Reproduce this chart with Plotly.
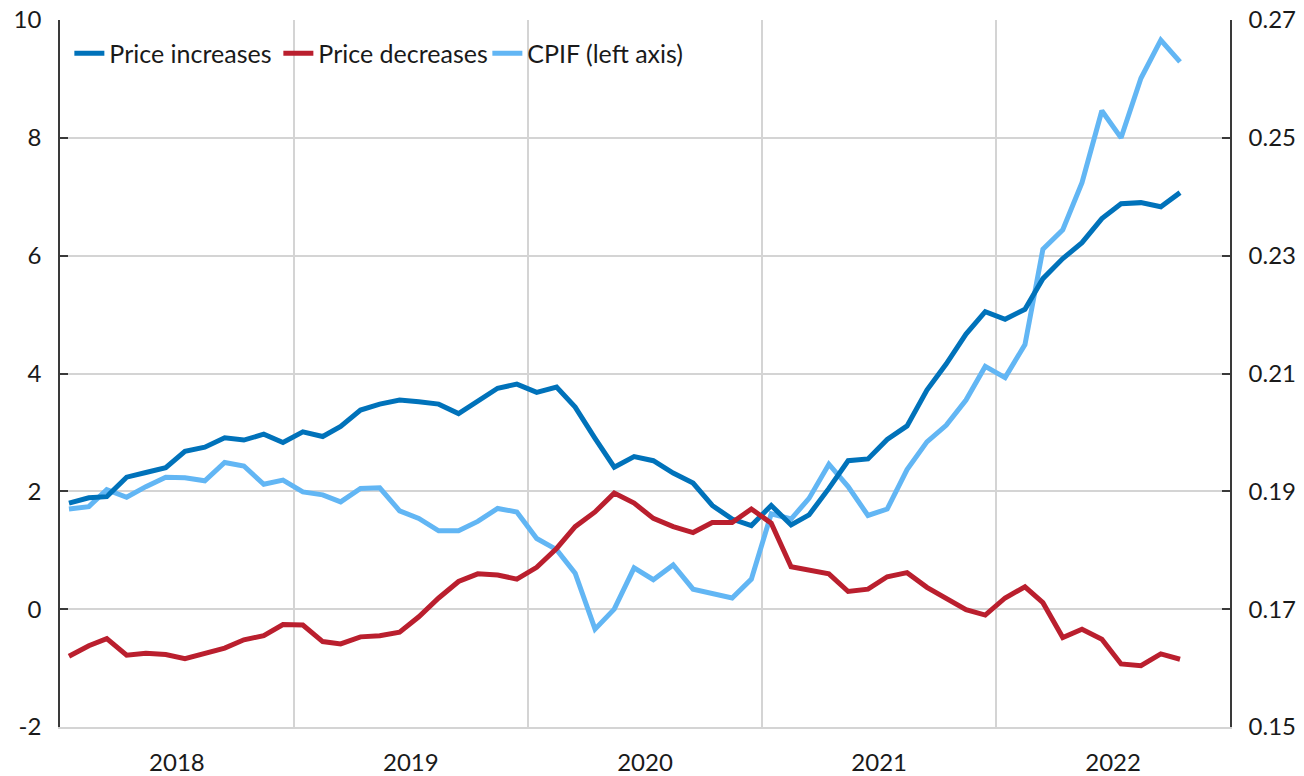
import pandas as pd
import plotly.graph_objects as go

# Monthly observations, Jan 2018 - Oct 2022
months = pd.date_range("2018-01-01", periods=58, freq="MS") + pd.Timedelta(days=14)

# Right axis (share of prices)
price_increases = [
    0.1880, 0.1889, 0.1891, 0.1924, 0.1932, 0.1940, 0.1968, 0.1975, 0.1991, 0.1987, 0.1997, 0.1983,
    0.2001, 0.1993, 0.2010, 0.2038, 0.2048, 0.2055, 0.2052, 0.2048, 0.2032, 0.2052, 0.2075, 0.2082,
    0.2068, 0.2077, 0.2043, 0.1990, 0.1941, 0.1959, 0.1952, 0.1931, 0.1914, 0.1876, 0.1853, 0.1842,
    0.1876, 0.1843, 0.1860, 0.1905, 0.1952, 0.1955, 0.1988, 0.2011, 0.2072, 0.2116, 0.2167, 0.2205,
    0.2192, 0.2209, 0.2261, 0.2295, 0.2322, 0.2363, 0.2388, 0.2390, 0.2383, 0.2407,
]
price_decreases = [
    0.1620, 0.1638, 0.1650, 0.1622, 0.1625, 0.1623, 0.1616, 0.1625, 0.1634, 0.1648, 0.1655, 0.1674,
    0.1673, 0.1645, 0.1641, 0.1653, 0.1655, 0.1661, 0.1687, 0.1719, 0.1747, 0.1760, 0.1758, 0.1751,
    0.1771, 0.1803, 0.1840, 0.1865, 0.1897, 0.1880, 0.1854, 0.1840, 0.1830, 0.1847, 0.1847, 0.1870,
    0.1846, 0.1772, 0.1767, 0.1760, 0.1730, 0.1734, 0.1755, 0.1762, 0.1737, 0.1719, 0.1699, 0.1690,
    0.1719, 0.1738, 0.1711, 0.1652, 0.1666, 0.1649, 0.1607, 0.1604, 0.1624, 0.1615,
]
# Left axis (CPIF, annual % change)
cpif = [
    1.70, 1.74, 2.03, 1.90, 2.08, 2.24, 2.23, 2.18, 2.49, 2.43, 2.12, 2.19,
    1.99, 1.94, 1.82, 2.05, 2.06, 1.67, 1.54, 1.33, 1.33, 1.49, 1.71, 1.65,
    1.20, 1.01, 0.61, -0.34, 0.00, 0.70, 0.50, 0.75, 0.34, 0.27, 0.19, 0.51,
    1.62, 1.53, 1.88, 2.46, 2.08, 1.59, 1.70, 2.37, 2.84, 3.12, 3.55, 4.12,
    3.93, 4.49, 6.11, 6.44, 7.24, 8.46, 8.00, 9.01, 9.66, 9.29,
]

left_ticks = [-2, 0, 2, 4, 6, 8, 10]
left_labels = ["-2", "0", "2", "4", "6", "8", "10"]

names = ["Price increases", "Price decreases", "CPIF (left axis)"]
colors = ["#0072BA", "#BA1F2E", "#62B6F4"]

FONT = "Lato"
TXT = "#1a1a1a"
GRID = "#d4d4d4"
AX = "#3a3a3a"

fig = go.Figure()
fig.add_trace(go.Scatter(x=months, y=price_increases, name=names[0], mode="lines",
                         line=dict(color=colors[0], width=5), yaxis="y2"))
fig.add_trace(go.Scatter(x=months, y=price_decreases, name=names[1], mode="lines",
                         line=dict(color=colors[1], width=5), yaxis="y2"))
fig.add_trace(go.Scatter(x=months, y=cpif, name=names[2], mode="lines",
                         line=dict(color=colors[2], width=5), yaxis="y"))

fig.update_layout(
    width=1304, height=776,
    margin=dict(l=60, r=74, t=20, b=49),
    paper_bgcolor="white", plot_bgcolor="white",
    font=dict(family=FONT, size=24, color=TXT),
    showlegend=True,
    legend=dict(orientation="h", x=0.008, y=0.985, xanchor="left", yanchor="top",
                bgcolor="rgba(0,0,0,0)", font=dict(size=25, color=TXT),
                itemwidth=30, tracegroupgap=0, entrywidth=164, entrywidthmode="pixels"),
    xaxis=dict(type="date", range=["2018-01-01", "2023-01-01"], dtick="M12",
               tick0="2018-01-01", ticklabelmode="period", tickformat="%Y",
               showgrid=True, gridcolor=GRID, gridwidth=1.5, automargin=False,
               showline=True, linecolor=GRID, linewidth=1.5,
               ticks="", ticklen=0, ticklabelstandoff=13, tickfont=dict(size=24, color=TXT)),
    yaxis=dict(range=[-2, 10], tickmode="array", tickvals=left_ticks, ticktext=left_labels,
               showgrid=True, gridcolor=GRID, gridwidth=1.5, automargin=False,
               zeroline=False, showline=True, linecolor=AX, linewidth=1.5,
               ticks="inside", ticklen=8, tickcolor=AX, tickwidth=1.5, ticklabelstandoff=12,
               tickfont=dict(size=24, color=TXT)),
    yaxis2=dict(range=[0.15, 0.27], dtick=0.02, tick0=0.15, overlaying="y", side="right",
                showgrid=False, zeroline=False, showline=True, linecolor=AX, linewidth=1.5,
                automargin=False, ticks="inside", ticklen=8, tickcolor=AX, tickwidth=1.5,
                tickformat=".2f", ticklabelstandoff=12, tickfont=dict(size=24, color=TXT)),
)

fig.write_html(
    "out.html",
    config={"displayModeBar": False},
    post_script="document.body.style.margin='0';document.body.style.overflow='hidden';",
)
